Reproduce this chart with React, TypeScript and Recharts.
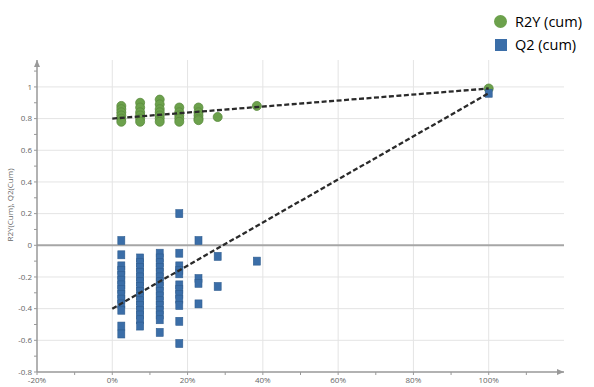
import React from 'react';
import { ScatterChart, Scatter, XAxis, YAxis, ReferenceLine, ReferenceDot } from 'recharts';

// permutation positions (correlation with original Y, %)
const permX = [2.4, 7.4, 12.6, 17.8, 22.9, 28, 38.4];

const r2yCols = [
  [0.88, 0.86, 0.84, 0.82, 0.8, 0.78],
  [0.9, 0.87, 0.84, 0.82, 0.8, 0.78],
  [0.92, 0.89, 0.86, 0.84, 0.82, 0.8, 0.78],
  [0.87, 0.84, 0.82, 0.8, 0.78],
  [0.87, 0.84, 0.82, 0.8, 0.79],
  [0.81],
  [0.88],
];

const q2Cols = [
  [0.03, -0.06, -0.13, -0.16, -0.19, -0.22, -0.25, -0.28, -0.31, -0.34, -0.37, -0.41, -0.51, -0.56],
  [-0.08, -0.11, -0.14, -0.17, -0.2, -0.23, -0.26, -0.29, -0.32, -0.35, -0.38, -0.41, -0.44, -0.47, -0.51],
  [-0.05, -0.08, -0.11, -0.14, -0.17, -0.2, -0.23, -0.26, -0.29, -0.32, -0.35, -0.38, -0.41, -0.44, -0.47, -0.55],
  [0.2, -0.05, -0.13, -0.16, -0.18, -0.25, -0.28, -0.31, -0.34, -0.38, -0.48, -0.62],
  [0.03, -0.21, -0.24, -0.37],
  [-0.07, -0.26],
  [-0.1],
];

// original (unpermuted) model
const originalX = 100;
const r2yOriginal = 0.99;
const q2Original = 0.96;

// regression intercepts at x = 0
const r2yIntercept = 0.8;
const q2Intercept = -0.4;

const xTicks = [-20, -10, 0, 10, 20, 30, 40, 50, 60, 70, 80, 90, 100, 110];
const xGrid = [0, 20, 40, 60, 80, 100];
const yTicks = [-0.8, -0.7, -0.6, -0.5, -0.4, -0.3, -0.2, -0.1, 0, 0.1, 0.2, 0.3, 0.4, 0.5, 0.6, 0.7, 0.8, 0.9, 1, 1.1];
const yGrid = [-0.6, -0.4, -0.2, 0.2, 0.4, 0.6, 0.8, 1];

const GREEN = '#6ca14c';
const BLUE = '#3b6ea8';

const toPoints = (cols: number[][], original: number) => [
  ...cols.flatMap((col, i) => col.map((y) => ({ x: permX[i], y }))),
  { x: originalX, y: original },
];

const r2yData = toPoints(r2yCols, r2yOriginal);
const q2Data = toPoints(q2Cols, q2Original);
const r2yLine = [{ x: 0, y: r2yIntercept }, { x: originalX, y: r2yOriginal }];
const q2Line = [{ x: 0, y: q2Intercept }, { x: originalX, y: q2Original }];

const tickStyle = { fontSize: 8, fill: '#666', fontFamily: 'Open Sans' };
const dashed = { stroke: '#2a2a2a', strokeWidth: 2.3, strokeDasharray: '5 2.5' };

const Circle = (p: any) => <circle cx={p.cx} cy={p.cy} r={4.5} fill={GREEN} stroke="#5a8c3e" strokeWidth={0.8} />;
const Square = (p: any) => <rect x={p.cx - 3.5} y={p.cy - 4} width={7} height={8} fill={BLUE} stroke="#2f5d8f" strokeWidth={0.6} />;
const NoDot = () => <g />;

const UpArrow = (p: any) => <polygon points={`${p.cx - 3},${p.cy + 7} ${p.cx + 3},${p.cy + 7} ${p.cx},${p.cy}`} fill="#999" />;
const RightArrow = (p: any) => <polygon points={`${p.cx - 7},${p.cy - 3} ${p.cx - 7},${p.cy + 3} ${p.cx},${p.cy}`} fill="#999" />;

const App: React.FC = () => {
  return (
    <div style={{ position: 'absolute', left: 0, top: 0, width: 594, height: 387, background: '#fff' }}>
      <ScatterChart width={594} height={387} margin={{ top: 60, right: 30, bottom: 0, left: 12 }}>
        <XAxis
          type="number"
          dataKey="x"
          domain={[-20, 120]}
          ticks={xTicks}
          allowDataOverflow
          height={15}
          tick={tickStyle}
          tickSize={3}
          tickLine={{ stroke: '#999' }}
          axisLine={{ stroke: '#999', strokeWidth: 1.5 }}
          tickFormatter={(v: number) => (v % 20 === 0 ? `${v}%` : '')}
          interval={0}
        />
        <YAxis
          type="number"
          dataKey="y"
          domain={[-0.8, 1.17]}
          ticks={yTicks}
          allowDataOverflow
          width={25}
          tick={tickStyle}
          tickSize={3}
          tickLine={{ stroke: '#999' }}
          axisLine={{ stroke: '#999', strokeWidth: 1.5 }}
          tickFormatter={(v: number) => (Math.round(v * 10) % 2 === 0 ? String(v) : '')}
          interval={0}
          label={{
            content: () => (
              <text transform="translate(13,205) rotate(-90)" textAnchor="middle" fontSize={8} fill="#666" fontFamily="Open Sans">
                R2Y(Cum), Q2(Cum)
              </text>
            ),
          }}
        />
        {yGrid.map((v) => (
          <ReferenceLine key={`h${v}`} y={v} stroke="#e4e4e4" strokeWidth={1} />
        ))}
        {xGrid.map((v) => (
          <ReferenceLine key={`v${v}`} x={v} stroke="#e4e4e4" strokeWidth={1} />
        ))}
        <ReferenceLine y={0} stroke="#a6a6a6" strokeWidth={2} />
        <ReferenceDot x={-20} y={1.17} shape={UpArrow} ifOverflow="visible" />
        <ReferenceDot x={120} y={-0.8} shape={RightArrow} ifOverflow="visible" />
        <Scatter name="R2Y (cum)" data={r2yData} shape={Circle} isAnimationActive={false} />
        <Scatter name="Q2 (cum)" data={q2Data} shape={Square} isAnimationActive={false} />
        <Scatter data={r2yLine} shape={NoDot} line={dashed} isAnimationActive={false} />
        <Scatter data={q2Line} shape={NoDot} line={dashed} isAnimationActive={false} />
      </ScatterChart>
      <div style={{ position: 'absolute', left: 494, top: 10, fontFamily: 'Open Sans', fontSize: 14.5, color: '#000', lineHeight: '23px' }}>
        <div style={{ display: 'flex', alignItems: 'center' }}>
          <span style={{ width: 13, height: 13, borderRadius: '50%', background: GREEN, display: 'inline-block', marginRight: 8 }} />
          R2Y (cum)
        </div>
        <div style={{ display: 'flex', alignItems: 'center' }}>
          <span style={{ width: 12, height: 12, background: BLUE, display: 'inline-block', marginLeft: 1, marginRight: 8 }} />
          Q2 (cum)
        </div>
      </div>
    </div>
  );
};

export default App;
